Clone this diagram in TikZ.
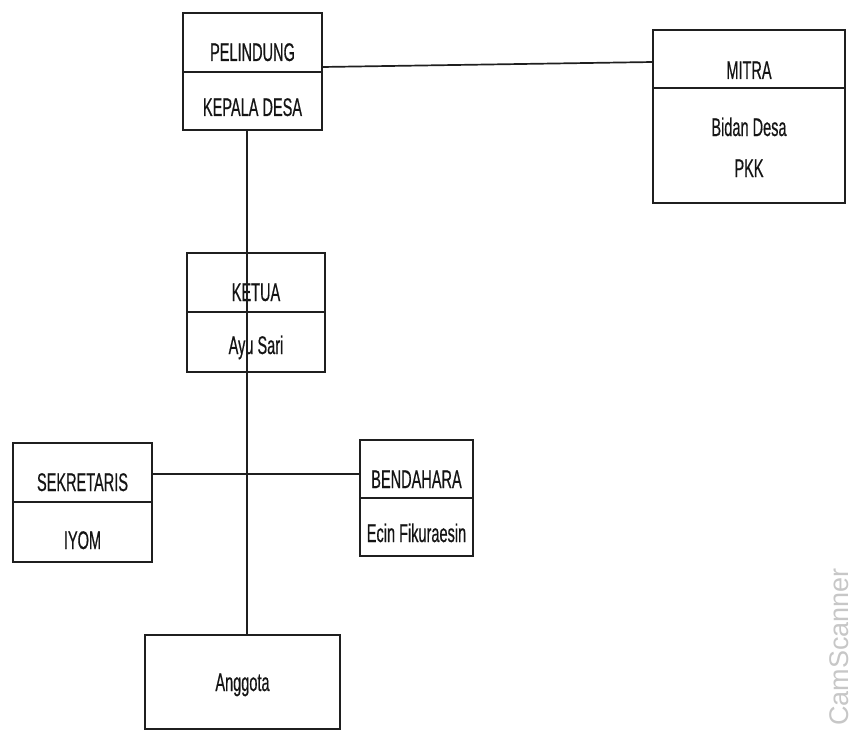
\documentclass[tikz,border=0pt]{standalone}
\usepackage{fontspec}
\setmainfont{Liberation Sans}[FakeStretch=0.57,FakeBold=0.5]
\newfontfamily\wmfont{Liberation Sans}
\begin{document}
\begin{tikzpicture}[x=1pt,y=-1pt]
\tikzset{
  cell/.style={draw=black!88, line width=1.8pt, inner sep=0pt, outer sep=0pt, rectangle},
  lbl/.style={font=\fontsize{25.5}{30}\selectfont, anchor=base, inner sep=0pt, text=black!92},
  conn/.style={line width=1.7pt, draw=black!88}
}
\useasboundingbox (0,0) rectangle (853,733);
% boxes
\node[cell, minimum width=139pt, minimum height=59pt] (pel) at (252.5,42.5) {};
\node[cell, minimum width=139pt, minimum height=58pt] (kd) at (252.5,101) {};
\node[cell, minimum width=192pt, minimum height=58pt] (mitra) at (749,59) {};
\node[cell, minimum width=192pt, minimum height=115pt] (mitrab) at (749,145.5) {};
\node[cell, minimum width=138pt, minimum height=59pt] (ketua) at (256,282.5) {};
\node[cell, minimum width=138pt, minimum height=60pt] (ayu) at (256,342) {};
\node[cell, minimum width=139pt, minimum height=59pt] (sek) at (82.5,472.5) {};
\node[cell, minimum width=139pt, minimum height=60pt] (iyom) at (82.5,532) {};
\node[cell, minimum width=113pt, minimum height=58pt] (ben) at (416.5,469) {};
\node[cell, minimum width=113pt, minimum height=58pt] (ecin) at (416.5,527) {};
\node[cell, minimum width=195pt, minimum height=94pt] (ang) at (242.5,682) {};
% labels
\node[lbl] (tpel) at (252.5,61) {PELINDUNG};
\node[lbl] (tkd) at (252.5,116) {KEPALA DESA};
\node[lbl] (tmitra) at (749,79) {MITRA};
\node[lbl] (tbidan) at (749,136) {Bidan Desa};
\node[lbl] (tpkk) at (749,177) {PKK};
\node[lbl] (tketua) at (256,301) {KETUA};
\node[lbl] (tayu) at (256,354) {Ayu Sari};
\node[lbl] (tsek) at (82.5,491) {SEKRETARIS};
\node[lbl] (tiyom) at (82.5,549) {IYOM};
\node[lbl] (tben) at (416.5,488) {BENDAHARA};
\node[lbl] (tecin) at (416.5,542) {Ecin Fikuraesin};
\node[lbl] (tang) at (242.5,691) {Anggota};
% connectors
\coordinate (spine) at (247,0);
\draw[conn] (kd.south -| spine) -- (ang.north -| spine);
\draw[conn] ([yshift=-24.5pt]pel.east) -- ([yshift=-3pt]mitra.west);
\draw[conn] ([yshift=-1.5pt]sek.east) -- ([yshift=-5pt]ben.west);
% watermark
\node[rotate=90, text=black!22, font=\wmfont\fontsize{27}{30}\selectfont, inner sep=0pt] (wm) at (839,647) {CamScanner};
\end{tikzpicture}
\end{document}
